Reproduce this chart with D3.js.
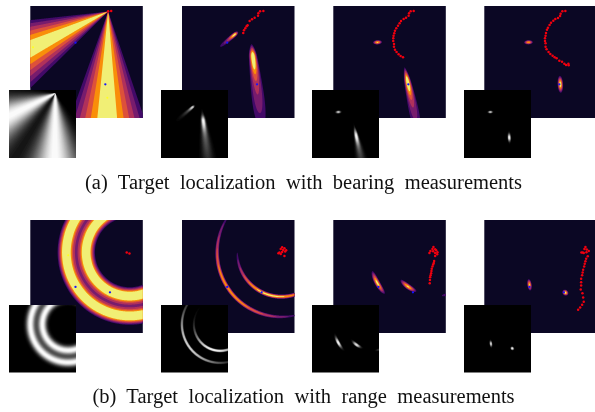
<!DOCTYPE html>
<html lang="en">
  <head>
    <meta charset="UTF-8" />
    <title>Target localization</title>
    <script src="https://d3js.org/d3.v7.min.js"></script>
    <style>
      html, body { margin: 0; padding: 0; background: #fff; overflow: hidden; }
      svg { display: block; }
      .soft { filter: blur(0.35px); }
      .caption { font-family: 'Liberation Serif', serif; font-size: 20.5px; fill: #111; text-anchor: middle; word-spacing: 5.3px; filter: blur(0.25px); }
    </style>
  </head>
  <body>
    <svg width="595" height="412"></svg>
    <script>
      const captions = [
        '(a) Target localization with bearing measurements',
        '(b) Target localization with range measurements',
      ];

      // all field positions are in panel units, 0-112 on both axes
      // wedge: x, y, direction, spread (deg), peak
      const bearingWedges = [
        [77.5, 5.5, 90.5, 11.5, 1],
        [77.5, 5.5, 154.5, 11.5, 1],
      ];
      // streak: x, y, direction, sd to head, sd to tail, width, width growth, peak
      const bearingStreaks2 = [
        [52.5, 28.5, 140, 2.5, 4.5, 1.1, 0.02, 0.55],
        [52.5, 28.5, 140, 2.5, 16, 1.4, 0.05, 0.5],
        [70.7, 50.7, 83, 5, 12, 2.1, 0.02, 0.6],
        [70.7, 50.7, 83, 9, 55, 2.6, 0.08, 0.58],
      ];
      const bearingStreaks3 = [
        [44, 36.3, 176, 2.7, 2.7, 1.3, 0, 0.95],
        [74, 75.7, 78, 7, 10, 1.8, 0.02, 0.6],
        [74, 75.7, 78, 10, 40, 2.1, 0.09, 0.55],
      ];
      const bearingStreaks4 = [
        [44, 36.3, 178, 2.7, 2.7, 1.3, 0, 0.9],
        [75.7, 78.3, 87, 5, 5, 1.6, 0, 1.05],
      ];
      // ring: x, y, radius, sd, arc centre, arc spread (deg), peak
      const rangeRings1 = [
        [99, 32, 43, 4.6, 0, 0, 1.25],
        [99, 32, 63.5, 4.6, 0, 0, 1.25],
        [99, 32, 53.3, 7, 0, 0, 0.22],
      ];
      const rangeRings2 = [
        [99, 32, 64, 1.3, 145, 45, 0.88],
        [99, 32, 44, 1.3, 105, 45, 1],
      ];
      const rangeRings3 = [
        [99, 32, 63, 1.6, 151, 7, 1],
        [99, 32, 42, 1.6, 126, 8, 0.95],
        [99, 32, 44, 1.4, 74, 5, 0.35],
      ];
      const rangeStreaks4 = [
        [45, 64.3, 82, 3.5, 3.5, 1.3, 0, 0.95],
        [80.7, 72, 40, 1.9, 1.9, 1.6, 0, 1.05],
      ];

      const bearingTargets = [[45, 36.7], [74.7, 78.3]];
      const bearingTargetsLate = [[74.7, 78.3]];
      const rangeTargets = [[45, 66.3], [79.3, 71.7]];
      const bearingSensors = [[2.7, 41.3], [76.7, 91.7]];
      const rangeSensors = [[37.7, 35]];

      const track1 = [[77.5, 5.2], [80.5, 5]];
      const track2 = [[81, 5], [77.7, 5.3], [76, 7.3], [75.7, 9.7], [72.3, 11.7], [69.7, 13.3], [67.3, 15], [65.3, 19.3], [64.3, 20.3], [63, 22.3], [61.7, 24.3], [61, 27]];
      const track3 = [[80, 5], [77, 5.3], [75.4, 7.3], [75, 9.7], [72.4, 11.7], [70, 13], [67.4, 15], [66, 17.3], [64.4, 19.7], [62.7, 22.3], [61.4, 24.7], [60.7, 27.3], [60, 29.7], [59.7, 32.3], [59.7, 35], [60.4, 38], [60.4, 40.7], [61.4, 43.7], [63, 46], [65, 48.3], [67, 50], [69.4, 51.3]];
      const track4 = [[80.7, 5], [77.7, 5.3], [76, 7.7], [75.4, 10], [73.4, 12], [70.7, 13], [68.7, 14.7], [66.4, 16.7], [65, 19], [63.4, 21.7], [62.4, 23.7], [61.4, 27], [61, 29.7], [60.4, 32.3], [60.4, 35], [61, 37.3], [61, 40.7], [62, 43.3], [64, 46], [65.7, 48], [68, 49.7], [70, 51.3], [72, 52.3], [74.7, 54.7], [77.4, 55.7], [79.7, 57.7], [81.4, 59], [83.7, 57.7], [84, 59.3]];
      const track5 = [[96, 32.3], [98.7, 33.3]];
      const track6 = [[99.7, 27], [102, 28], [98.3, 28.7], [100.7, 29.7], [103.7, 30], [99.7, 31.7], [102.7, 31.3], [97, 32.3], [96, 33], [98.3, 33.7], [102, 35.7]];
      const track7 = [[99.7, 26.7], [98.7, 28.7], [101.4, 29], [96.7, 30.7], [99.4, 31], [102.4, 30], [103.7, 32], [95.7, 32.7], [101.4, 32.7], [103.4, 34], [101.4, 35.7], [100.4, 40.7], [100, 42.5], [99.4, 44], [98.7, 46], [98, 48.3], [97.7, 50.5], [97.4, 52.7], [96.9, 54.7], [96.4, 56.7], [96.2, 59.5], [96, 62.7]];
      const track8 = [[100.7, 26.7], [99.7, 28.7], [102, 29.3], [96.7, 32.3], [99, 32.7], [104, 30.7], [101.7, 32], [98, 32.3], [103, 36], [101.4, 38.3], [100.7, 41], [100, 43.3], [99.4, 46], [98.4, 49.3], [97.9, 52], [97.4, 54.7], [96.4, 58.3], [96.4, 61.7], [96.4, 65], [96, 69], [97.7, 72.7], [98.4, 76.7], [99, 81], [97.4, 84], [95.4, 86.7], [93.4, 89]];

      const bandLevels = [0.25, 0.34, 0.46, 0.6, 0.75, 0.9];
      const bandTones = [0.065, 0.2, 0.33, 0.47, 0.6, 0.75, 0.95];

      const columnLefts = [30.3, 182, 333.3, 484.3];
      const insetLefts = [9, 161, 312, 464];
      const rows = [
        { top: 6, height: 112, insetTop: 90, insetHeight: 68, captionY: 189 },
        { top: 220, height: 113, insetTop: 305, insetHeight: 67.5, captionY: 403 },
      ];

      const panels = [
        { row: 0, col: 0, gamma: 0.75, wedges: bearingWedges, targets: bearingTargets, sensors: bearingSensors, track: track1 },
        { row: 0, col: 1, gamma: 1.2, streaks: bearingStreaks2, targets: bearingTargets, track: track2 },
        { row: 0, col: 2, gamma: 1.2, streaks: bearingStreaks3, targets: bearingTargetsLate, track: track3 },
        { row: 0, col: 3, gamma: 1.5, streaks: bearingStreaks4, targets: bearingTargetsLate, track: track4 },
        { row: 1, col: 0, gamma: 1, rings: rangeRings1, targets: rangeTargets, sensors: rangeSensors, track: track5 },
        { row: 1, col: 1, gamma: 1.2, rings: rangeRings2, targets: rangeTargets, track: track6 },
        { row: 1, col: 2, gamma: 1.5, rings: rangeRings3, targets: rangeTargets, track: track7 },
        { row: 1, col: 3, gamma: 1.5, streaks: rangeStreaks4, targets: rangeTargets, track: track8 },
      ];

      const gridSize = 224;
      const unit = 112;
      const rad = Math.PI / 180;

      function angleDiff(a, b) {
        return ((a - b + 540) % 360) - 180;
      }

      function gauss(d, s) {
        return Math.exp((-d * d) / (2 * s * s));
      }

      function density(p, x, y) {
        let v = 0;
        (p.wedges || []).forEach(([cx, cy, dir, spread, peak]) => {
          const a = Math.atan2(y - cy, x - cx) / rad;
          v += peak * gauss(angleDiff(a, dir), spread);
        });
        (p.rings || []).forEach(([cx, cy, r, sd, arc, spread, peak]) => {
          const d = Math.hypot(x - cx, y - cy);
          const a = Math.atan2(y - cy, x - cx) / rad;
          const w = spread ? gauss(angleDiff(a, arc), spread) : 1;
          v += peak * gauss(d - r, sd) * w;
        });
        (p.streaks || []).forEach(([cx, cy, dir, head, tail, width, growth, peak]) => {
          const c = Math.cos(dir * rad);
          const s = Math.sin(dir * rad);
          const along = (x - cx) * c + (y - cy) * s;
          const across = -(x - cx) * s + (y - cy) * c;
          const w = Math.max(0.5, width + growth * along);
          v += peak * gauss(along, along < 0 ? head : tail) * gauss(across, w);
        });
        return v;
      }

      const svg = d3.select('svg');
      const bandColor = d3.scaleOrdinal(
        bandLevels,
        bandTones.slice(1).map((t) => d3.interpolateInferno(t))
      );
      const grayLevels = d3.range(1 / 48, 1, 1 / 48);
      const grayColor = d3.scaleLinear().domain([0, 1]).range(['#000', '#fff']);

      function drawField(g, values, levels, color, background, x0, y0, w, h) {
        const x = d3.scaleLinear().domain([0, gridSize]).range([x0, x0 + w]);
        const y = d3.scaleLinear().domain([0, gridSize]).range([y0, y0 + h]);
        const path = d3.geoPath(
          d3.geoTransform({
            point(px, py) {
              this.stream.point(x(px), y(py));
            },
          })
        );
        g.append('rect')
          .attr('x', x0)
          .attr('y', y0)
          .attr('width', w)
          .attr('height', h)
          .attr('fill', background);
        g.selectAll(null)
          .data(d3.contours().size([gridSize, gridSize]).thresholds(levels)(values))
          .enter()
          .append('path')
          .attr('d', path)
          .attr('fill', (d) => color(d.value));
      }

      panels.forEach((p) => {
        const row = rows[p.row];
        const left = columnLefts[p.col];
        const width = 112.5;
        const values = new Float64Array(gridSize * gridSize);
        for (let j = 0; j < gridSize; j++) {
          for (let i = 0; i < gridSize; i++) {
            values[j * gridSize + i] = density(
              p,
              ((i + 0.5) * unit) / gridSize,
              ((j + 0.5) * unit) / gridSize
            );
          }
        }

        const g = svg.append('g').attr('class', 'soft');
        drawField(g, values, bandLevels, bandColor, d3.interpolateInferno(bandTones[0]), left, row.top, width, row.height);

        const px = d3.scaleLinear().domain([0, unit]).range([left, left + width]);
        const py = d3.scaleLinear().domain([0, unit]).range([row.top, row.top + row.height]);
        const dots = (data, r, fill) =>
          g.selectAll(null)
            .data(data)
            .enter()
            .append('circle')
            .attr('cx', (d) => px(d[0]))
            .attr('cy', (d) => py(d[1]))
            .attr('r', r)
            .attr('fill', fill);
        dots(p.track, 1.25, '#f0000f');
        dots(p.sensors || [], 1, '#ffff20');
        dots(p.targets, 1.15, '#1414ff');

        // the inset is the same field, normalised to its peak
        const peak = d3.max(values);
        const grayValues = values.map((v) => Math.pow(v / peak, p.gamma));
        drawField(g, grayValues, grayLevels, grayColor, '#000', insetLefts[p.col], row.insetTop, 67, row.insetHeight);
      });

      svg.selectAll('text.caption')
        .data(captions)
        .enter()
        .append('text')
        .attr('class', 'caption')
        .attr('x', 303.5)
        .attr('y', (d, i) => rows[i].captionY)
        .text((d) => d);
    </script>
  </body>
</html>
